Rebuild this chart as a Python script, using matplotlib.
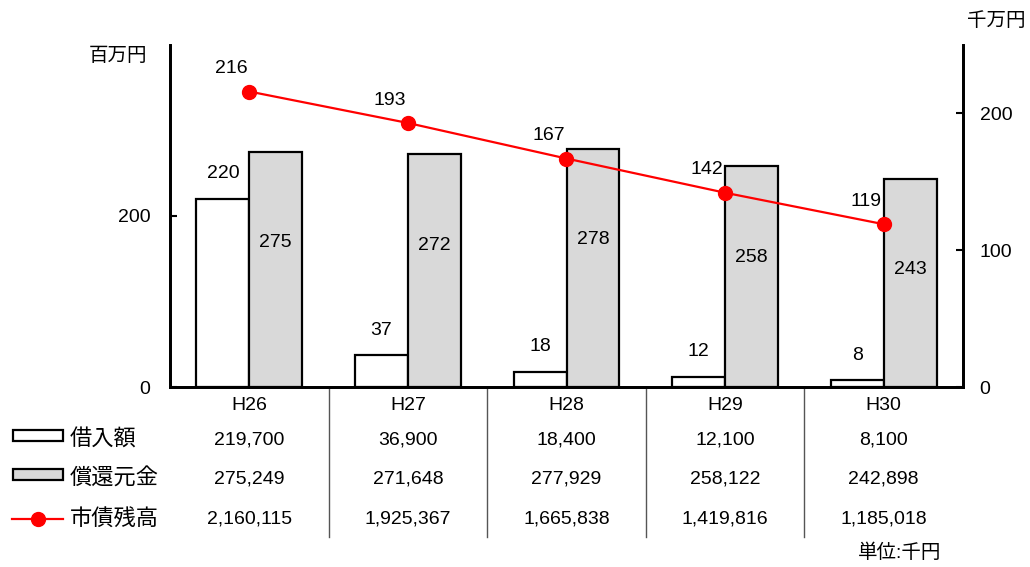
import matplotlib.pyplot as plt
import matplotlib.transforms as mtransforms
from matplotlib.patches import Rectangle
from matplotlib.lines import Line2D

plt.rcParams['font.family'] = ['Liberation Sans', 'Noto Sans CJK JP']

# data
years = ['H26', 'H27', 'H28', 'H29', 'H30']
borrow = [220, 37, 18, 12, 8]              # 借入額 (百万円)
repay = [275, 272, 278, 258, 243]          # 償還元金 (百万円)
balance = [216, 193, 167, 142, 119]        # 市債残高 (千万円)
borrow_tbl = ['219,700', '36,900', '18,400', '12,100', '8,100']
repay_tbl = ['275,249', '271,648', '277,929', '258,122', '242,898']
balance_tbl = ['2,160,115', '1,925,367', '1,665,838', '1,419,816', '1,185,018']
row_names = ['借入額', '償還元金', '市債残高']

W, H = 1030, 567
fig = plt.figure(figsize=(W / 100, H / 100), dpi=100)
ax = fig.add_axes([170 / W, 1 - 387 / H, (963 - 170) / W, (387 - 45) / H])
ax2 = ax.twinx()

x = list(range(len(years)))
bw = 0.334
ax.bar([i - bw / 2 for i in x], borrow, width=bw, color='white', edgecolor='black', linewidth=1.6, zorder=2)
ax.bar([i + bw / 2 for i in x], repay, width=bw, color='#d9d9d9', edgecolor='black', linewidth=1.6, zorder=2)

for i in x:
    ax.annotate(str(borrow[i]), (i - bw / 2, borrow[i]), xytext=(0, 18), textcoords='offset points',
                ha='center', va='center', fontsize=14)
    ax.text(i + bw / 2, repay[i] - 106, str(repay[i]), ha='center', va='center', fontsize=14)

ax2.plot(x, balance, color='#ff0000', linewidth=1.6, marker='o', markersize=10, zorder=3)
for i in x:
    ax2.annotate(str(balance[i]), (i, balance[i]), xytext=(-13, 16.5), textcoords='offset points',
                 ha='center', va='center', fontsize=14)

ax.set_xlim(-0.5, len(years) - 0.5)
ax.set_ylim(0, 400)
ax2.set_ylim(0, 250)
ax.set_yticks([0, 200])
ax2.set_yticks([0, 100, 200])
ax.set_xticks(x)
ax.set_xticklabels(years, fontsize=14)
ax.tick_params(axis='x', length=0, pad=7)
ax.tick_params(axis='y', direction='in', length=5, width=1.5, labelsize=14, pad=14)
ax2.tick_params(axis='y', direction='in', length=5, width=1.5, labelsize=14, pad=12)

for a in (ax, ax2):
    a.spines['top'].set_visible(False)
    for s in ('left', 'right', 'bottom'):
        a.spines[s].set_linewidth(2)
ax.patch.set_visible(False)

fig.text(147 / W, 1 - 56 / H, '百万円', ha='right', va='center', fontsize=14)
fig.text(996 / W, 1 - 21 / H, '千万円', ha='center', va='center', fontsize=14)

# data table under the chart
trans = mtransforms.blended_transform_factory(ax.transData, fig.transFigure)
row_y = [440, 479, 519]
for vals, yy in zip([borrow_tbl, repay_tbl, balance_tbl], row_y):
    for i in x:
        ax.text(i, 1 - yy / H, vals[i], transform=trans, ha='center', va='center', fontsize=14)
for i in range(1, len(years)):
    ax.add_line(Line2D([i - 0.5, i - 0.5], [1 - 387 / H, 1 - 537 / H], transform=trans,
                       color='#555555', linewidth=1, clip_on=False))

for name, yy in zip(row_names, row_y):
    fig.text(70 / W, 1 - yy / H, name, ha='left', va='center', fontsize=16)
fig.add_artist(Rectangle((13 / W, 1 - 441 / H), 50 / W, 11 / H, transform=fig.transFigure,
                         facecolor='white', edgecolor='black', linewidth=1.6))
fig.add_artist(Rectangle((13 / W, 1 - 480 / H), 50 / W, 11 / H, transform=fig.transFigure,
                         facecolor='#d9d9d9', edgecolor='black', linewidth=1.6))
fig.add_artist(Line2D([12 / W, 63 / W], [1 - 519 / H, 1 - 519 / H], transform=fig.transFigure,
                      color='#ff0000', linewidth=1.6))
fig.add_artist(Line2D([38 / W], [1 - 519 / H], transform=fig.transFigure,
                      color='#ff0000', marker='o', markersize=10))

fig.text(900 / W, 1 - 553 / H, '単位:千円', ha='center', va='center', fontsize=14)

fig.savefig('out.png', dpi=100)
